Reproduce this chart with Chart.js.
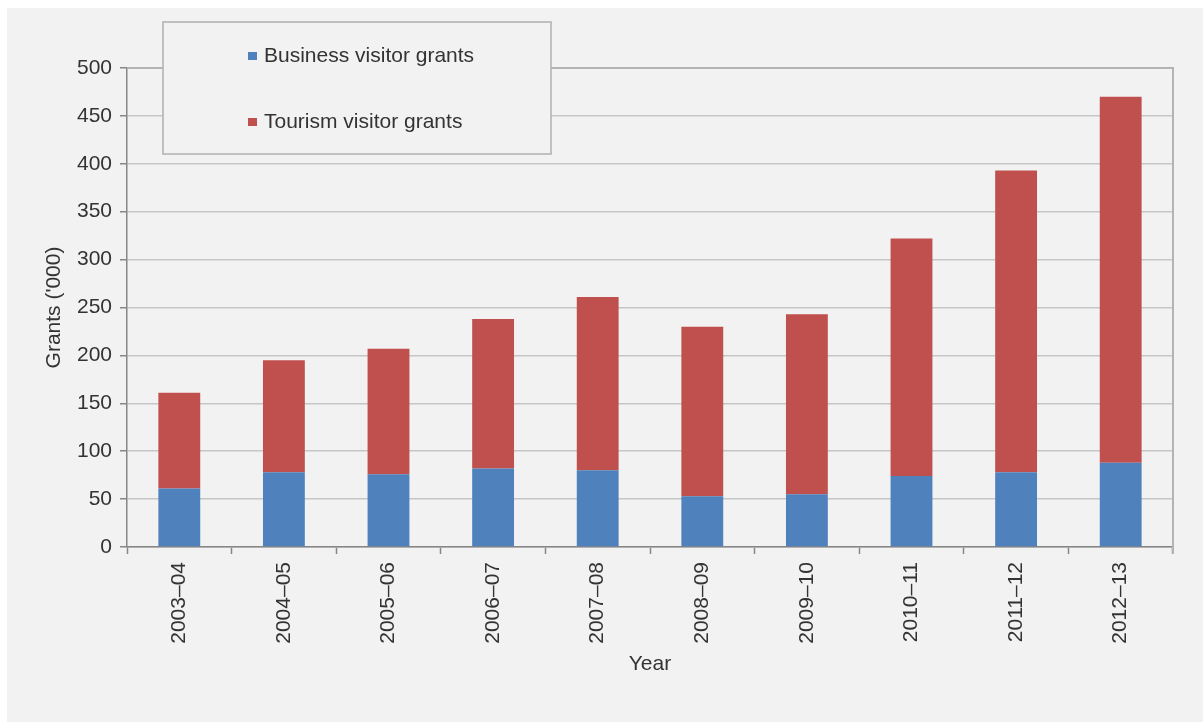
<!DOCTYPE html>
<html>
<head>
<meta charset="utf-8">
<script src="https://cdn.jsdelivr.net/npm/chart.js@4/dist/chart.umd.min.js"></script>
<style>
  html, body { margin: 0; padding: 0; background: #ffffff; }
  #wrap { position: absolute; left: 7px; top: 8px; width: 1196px; height: 714px; background: #f2f2f2; }
</style>
</head>
<body>
<div id="wrap"><canvas id="myChart" width="1196" height="714"></canvas></div>
<script>
let years = ["2003–04", "2004–05", "2005–06", "2006–07", "2007–08",
  "2008–09", "2009–10", "2010–11", "2011–12", "2012–13"];
let business = [61, 78, 76, 82, 80, 53, 55, 74, 78, 88];
let tourism = [100, 117, 131, 156, 181, 177, 188, 248, 315, 382];
let yTicks = [0, 50, 100, 150, 200, 250, 300, 350, 400, 450, 500];

let textColor = "#333333";
let font = { family: "'Liberation Sans', Arial, sans-serif", size: 21 };

// plot frame on the top and right side, legend box inside the plot
let framePlugin = {
  id: "frame",
  afterDraw(chart) {
    let ctx = chart.ctx;
    let a = chart.chartArea;
    ctx.save();
    ctx.strokeStyle = "#b4b4b4";
    ctx.lineWidth = 2;
    ctx.beginPath();
    ctx.moveTo(a.left, a.top);
    ctx.lineTo(a.right, a.top);
    ctx.lineTo(a.right, a.bottom + 7);
    ctx.stroke();

    // legend
    let bx = a.left + 36, by = a.top - 46, bw = 388, bh = 132;
    ctx.fillStyle = "#f2f2f2";
    ctx.fillRect(bx, by, bw, bh);
    ctx.strokeStyle = "#b0b0b0";
    ctx.lineWidth = 1.5;
    ctx.strokeRect(bx, by, bw, bh);
    ctx.font = font.size + "px " + font.family;
    ctx.textBaseline = "middle";
    chart.data.datasets.forEach((ds, i) => {
      let cy = by + 34 + i * 66;
      ctx.fillStyle = ds.backgroundColor;
      ctx.fillRect(bx + 85, cy - 4, 9, 8);
      ctx.fillStyle = textColor;
      ctx.fillText(ds.label, bx + 101, cy);
    });
    ctx.restore();
  },
};

let chart = new Chart(document.getElementById("myChart"), {
  type: "bar",
  data: {
    labels: years,
    datasets: [
      { label: "Business visitor grants", data: business, backgroundColor: "#4f81bd" },
      { label: "Tourism visitor grants", data: tourism, backgroundColor: "#c0504d" },
    ],
  },
  options: {
    responsive: false,
    animation: false,
    categoryPercentage: 1,
    barPercentage: 0.4,
    layout: { padding: { left: 0, right: 30, top: 60, bottom: 0 } },
    plugins: {
      legend: { display: false },
      tooltip: { enabled: false },
    },
    scales: {
      x: {
        stacked: true,
        afterFit: (s) => { s.height = 175; },
        border: { color: "#868686", width: 1.5 },
        grid: { offset: true, drawOnChartArea: false, tickLength: 7, tickColor: "#868686", tickWidth: 1.5 },
        ticks: { minRotation: 90, maxRotation: 90, padding: 8, color: textColor, font: font },
        title: { display: true, text: "Year", color: textColor, font: font, padding: { top: 0, bottom: 45 } },
      },
      y: {
        stacked: true,
        min: 0,
        max: 500,
        afterFit: (s) => { s.width = 120; },
        afterBuildTicks: (s) => { s.ticks = yTicks.map((v) => ({ value: v })); },
        border: { color: "#868686", width: 1.5 },
        grid: { color: "#c6c6c6", lineWidth: 1.5, tickLength: 7, tickColor: "#868686" },
        ticks: { padding: 8, color: textColor, font: font },
        title: { display: true, text: "Grants ('000)", color: textColor, font: font, padding: { top: 35, bottom: 0 } },
      },
    },
  },
  plugins: [framePlugin],
});
</script>
</body>
</html>
